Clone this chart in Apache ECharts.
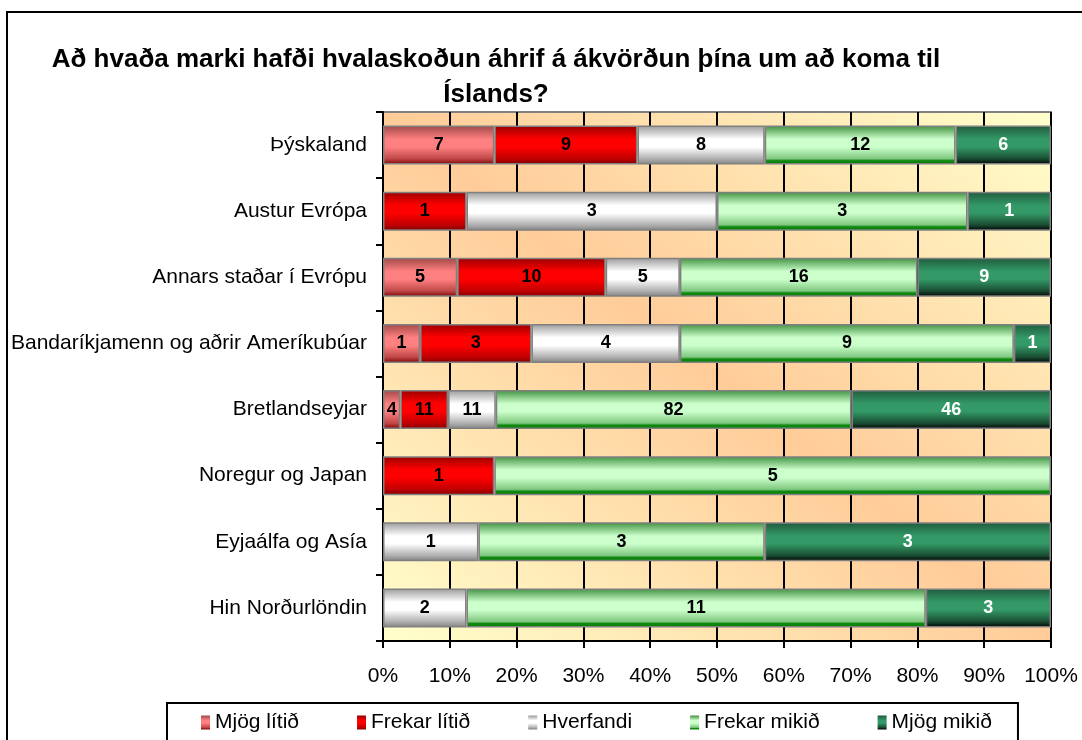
<!DOCTYPE html>
<html>
<head>
<meta charset="utf-8">
<title>Hvalaskoðun</title>
<script src="https://cdn.jsdelivr.net/npm/echarts@6/dist/echarts.min.js"></script>
<style>
  html, body { margin: 0; padding: 0; background: #fff; }
  #main { width: 1082px; height: 740px; }
</style>
</head>
<body>
<div id="main"></div>
<script>
// flokkar (ofan frá og niður)
var categories = ['Þýskaland', 'Austur Evrópa', 'Annars staðar í Evrópu',
  'Bandaríkjamenn og aðrir Ameríkubúar', 'Bretlandseyjar', 'Noregur og Japan',
  'Eyjaálfa og Asía', 'Hin Norðurlöndin'];

// fjöldi svara í hverjum flokki
var mjogLitid = [7, 0, 5, 1, 4, 0, 0, 0];
var frekarLitid = [9, 1, 10, 3, 11, 1, 0, 0];
var hverfandi = [8, 3, 5, 4, 11, 0, 1, 2];
var frekarMikid = [12, 3, 16, 9, 82, 5, 3, 11];
var mjogMikid = [6, 1, 9, 1, 46, 0, 3, 3];

var seriesNames = ['Mjög lítið', 'Frekar lítið', 'Hverfandi', 'Frekar mikið', 'Mjög mikið'];
var xTicks = [0, 10, 20, 30, 40, 50, 60, 70, 80, 90, 100];

var FONT = '"Liberation Sans", Arial, sans-serif';
var allCounts = [mjogLitid, frekarLitid, hverfandi, frekarMikid, mjogMikid];

// summa fyrir hvern flokk -> 100%
var totals = categories.map(function (c, i) {
  var s = 0;
  for (var k = 0; k < allCounts.length; k++) s += allCounts[k][i];
  return s;
});

function grad(stops) {
  return new echarts.graphic.LinearGradient(0, 0, 0, 1, stops.map(function (s) {
    return {offset: s[0], color: s[1]};
  }));
}

var barColors = [
  grad([[0, '#a04848'], [0.35, '#ff8080'], [0.55, '#ff8080'], [0.85, '#c04848'], [1, '#800000']]),
  grad([[0, '#990000'], [0.35, '#ff0000'], [0.55, '#ff0000'], [0.85, '#c00000'], [1, '#800000']]),
  grad([[0, '#9a9a9a'], [0.35, '#ffffff'], [0.55, '#ffffff'], [0.85, '#b0b0b0'], [1, '#808080']]),
  grad([[0, '#3f8f3f'], [0.35, '#ccffcc'], [0.55, '#ccffcc'], [0.85, '#7fc77f'], [0.9, '#118811'], [1, '#008000']]),
  grad([[0, '#1f5a3c'], [0.35, '#339966'], [0.55, '#339966'], [0.85, '#1a4d33'], [1, '#000000']])
];
var labelColors = ['#000', '#000', '#000', '#000', '#fff'];

var series = allCounts.map(function (arr, k) {
  return {
    name: seriesNames[k],
    type: 'bar',
    stack: 'total',
    barWidth: 39,
    data: arr.map(function (v, i) {
      return v === 0 ? '-' : {value: v / totals[i] * 100, count: v};
    }),
    itemStyle: {
      color: barColors[k],
      borderColor: '#808080',
      borderWidth: 1.5
    },
    label: {
      show: true,
      position: 'inside',
      fontFamily: FONT,
      fontSize: 18,
      fontWeight: 'bold',
      color: labelColors[k],
      formatter: function (p) {
        return p.data && p.data.count ? String(p.data.count) : '';
      }
    },
    emphasis: {disabled: true}
  };
});

// bakgrunnur: appelsínugult eftir hornalínunni, ljósgult í hornum
var plotBg = new echarts.graphic.LinearGradient(460, 701, 974, 51, [
  {offset: 0, color: '#ffffcc'},
  {offset: 0.5, color: '#ffcc99'},
  {offset: 1, color: '#ffffcc'}
], true);

var chart = echarts.init(document.getElementById('main'));
chart.setOption({
  animation: false,
  textStyle: {fontFamily: FONT},
  title: {
    text: 'Að hvaða marki hafði hvalaskoðun áhrif á ákvörðun þína um að koma til\nÍslands?',
    left: 491,
    top: 37,
    textAlign: 'center',
    textStyle: {
      fontFamily: FONT,
      fontSize: 26,
      fontWeight: 'bold',
      color: '#000',
      lineHeight: 35
    }
  },
  graphic: [{
    type: 'rect',
    shape: {x: 7, y: 12, width: 1100, height: 760},
    style: {fill: null, stroke: '#000', lineWidth: 2},
    silent: true,
    z: 0
  }],
  legend: {
    left: 167,
    top: 703,
    padding: [9, 26, 14, 34],
    borderColor: '#000',
    borderWidth: 2,
    itemGap: 58,
    itemWidth: 9,
    itemHeight: 14,
    icon: 'rect',
    itemStyle: {borderWidth: 0},
    textStyle: {fontFamily: FONT, fontSize: 21, color: '#000'},
    data: seriesNames
  },
  grid: {
    left: 383,
    top: 112,
    right: 31,
    bottom: 99,
    show: true,
    borderColor: '#808080',
    borderWidth: 2,
    backgroundColor: plotBg
  },
  xAxis: {
    type: 'value',
    min: xTicks[0],
    max: xTicks[xTicks.length - 1],
    interval: 10,
    axisLine: {show: true, lineStyle: {color: '#000', width: 2}},
    axisTick: {show: true, length: 7, lineStyle: {color: '#000', width: 2}},
    axisLabel: {
      margin: 25,
      fontFamily: FONT,
      fontSize: 21,
      color: '#000',
      formatter: '{value}%'
    },
    splitLine: {show: true, lineStyle: {color: '#000', width: 2}}
  },
  yAxis: {
    type: 'category',
    inverse: true,
    data: categories,
    axisLine: {show: true, lineStyle: {color: '#000', width: 2}},
    axisTick: {show: true, length: 7, lineStyle: {color: '#000', width: 2}},
    axisLabel: {margin: 16, fontFamily: FONT, fontSize: 21, color: '#000'},
    splitLine: {show: false}
  },
  series: series
});
</script>
</body>
</html>
